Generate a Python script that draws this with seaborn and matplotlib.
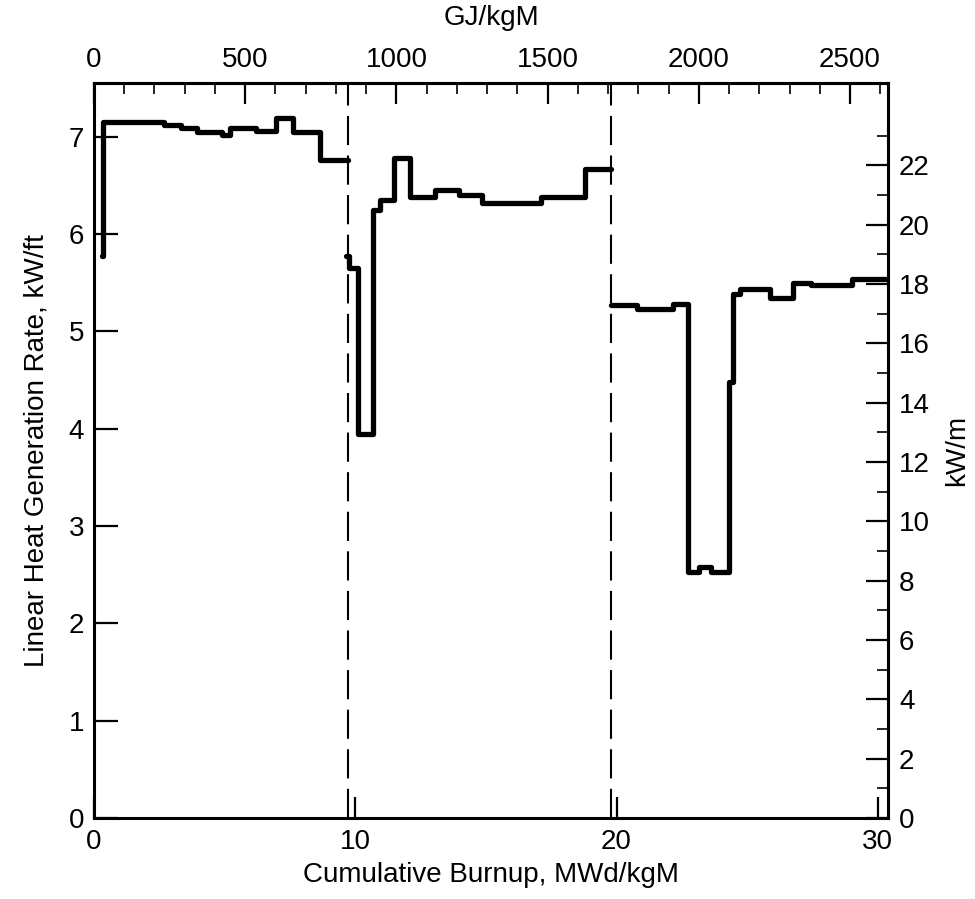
import numpy as np
import pandas as pd
import seaborn as sns
import matplotlib.pyplot as plt

# Ступенчатая история мощности по трём циклам (кВт/фут)
cycle1_burnup = [0.30, 0.34, 2.69, 3.32, 3.96, 4.89, 5.19, 6.19, 6.98, 7.61, 8.66, 9.74]
cycle1_rate = [5.77, 7.15, 7.12, 7.09, 7.05, 7.02, 7.09, 7.06, 7.19, 7.05, 6.76, 6.76]

cycle2_burnup = [9.65, 9.77, 10.12, 10.69, 10.93, 11.47, 12.08, 13.05, 13.98, 14.86,
                 17.10, 18.80, 19.77]
cycle2_rate = [5.77, 5.65, 3.94, 6.25, 6.35, 6.78, 6.38, 6.45, 6.40, 6.32,
               6.38, 6.67, 6.67]

cycle3_burnup = [19.77, 20.78, 22.16, 22.75, 23.14, 23.61, 24.31, 24.47, 24.71, 25.88,
                 26.75, 27.45, 29.02, 30.39]
cycle3_rate = [5.27, 5.23, 5.28, 2.53, 2.58, 2.53, 4.48, 5.38, 5.43, 5.34,
               5.50, 5.47, 5.54, 5.54]

# Границы циклов (пунктир)
cycle_bounds = [9.72, 19.78]

x_ticks = [0, 10, 20, 30]
y_ticks = [0, 1, 2, 3, 4, 5, 6, 7]
top_major = [0, 500, 1000, 1500, 2000, 2500]
top_minor = list(range(0, 2700, 100))
right_major = list(range(0, 24, 2))
right_minor = list(range(1, 24, 2))

GJ_PER_MWD = 86.4
KWM_PER_KWFT = 3.2808


def build_frame():
    frames = []
    for i, (bx, rt) in enumerate([(cycle1_burnup, cycle1_rate),
                                  (cycle2_burnup, cycle2_rate),
                                  (cycle3_burnup, cycle3_rate)]):
        frames.append(pd.DataFrame({"burnup": bx, "rate": rt, "cycle": i + 1}))
    return pd.concat(frames, ignore_index=True)


sns.set_theme(style="white")
plt.rcParams['font.family'] = ['Liberation Sans', 'DejaVu Sans']
plt.rcParams['axes.linewidth'] = 2.2
plt.rcParams['text.color'] = 'black'
plt.rcParams['axes.labelcolor'] = 'black'

fig = plt.figure(figsize=(9.75, 8.99), dpi=100)
ax = fig.add_axes([94 / 975, 81 / 899, (888 - 94) / 975, (818 - 83) / 899])

data = build_frame()
for cyc, part in data.groupby("cycle"):
    sns.lineplot(data=part, x="burnup", y="rate", ax=ax, color="black",
                 linewidth=3.8, drawstyle="steps-post", estimator=None,
                 sort=False, legend=False)

for xb in cycle_bounds:
    ax.axvline(xb, color="black", linewidth=1.5, linestyle=(0, (14, 5)))

ax.set_xlim(0, 30.39)
ax.set_ylim(0, 7.55)
for s in ax.spines.values():
    s.set_color("black")

ax.set_xticks(x_ticks)
ax.set_yticks(y_ticks)
ax.tick_params(axis="x", direction="in", length=15, width=1.6, pad=8,
               labelsize=20, colors="black", bottom=True)
ax.tick_params(axis="y", direction="in", length=17, width=1.6, pad=7,
               labelsize=20, colors="black", left=True)
ax.set_xlabel("Cumulative Burnup, MWd/kgM", fontsize=20, labelpad=5)
ax.set_ylabel("Linear Heat Generation Rate, kW/ft", fontsize=20, labelpad=14)

# Верхняя ось: ГДж/кг
top = ax.secondary_xaxis("top", functions=(lambda x: x * GJ_PER_MWD,
                                           lambda g: g / GJ_PER_MWD))
top.set_xticks(top_major)
top.set_xticks(top_minor, minor=True)
top.tick_params(which="major", direction="in", length=15, width=1.6, pad=7,
                labelsize=20, colors="black")
top.tick_params(which="minor", direction="in", length=8, width=1.4)
top.set_xlabel("GJ/kgM", fontsize=20, labelpad=16)

# Правая ось: кВт/м
right = ax.secondary_yaxis("right", functions=(lambda v: v * KWM_PER_KWFT,
                                               lambda m: m / KWM_PER_KWFT))
right.set_yticks(right_major)
right.set_yticks(right_minor, minor=True)
right.tick_params(which="major", direction="in", length=16, width=1.6, pad=8,
                  labelsize=20, colors="black")
right.tick_params(which="minor", direction="in", length=8, width=1.4)
right.set_ylabel("kW/m", fontsize=20, labelpad=10)
right.spines["right"].set_linewidth(2.2)
top.spines["top"].set_linewidth(2.2)

fig.savefig("out.png", dpi=100, facecolor="white")
